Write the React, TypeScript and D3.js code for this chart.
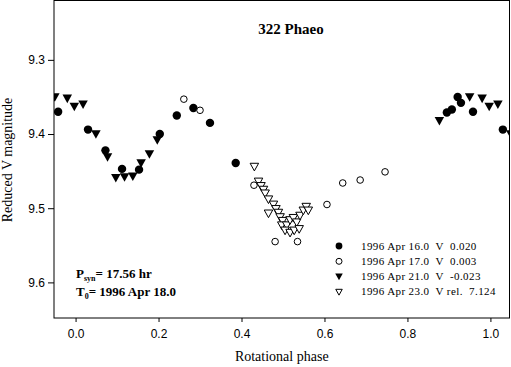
import { useEffect, useRef } from "react";
import * as d3 from "d3";

// lightcurve of 322 Phaeo, phase in [0,1), reduced V magnitude
const apr16: [number, number][] = [
  [0.03, 9.394], [0.072, 9.422], [0.112, 9.447], [0.153, 9.448], [0.203, 9.4],
  [0.244, 9.375], [0.284, 9.365], [0.324, 9.385], [0.386, 9.439],
  [0.895, 9.371], [0.907, 9.367], [0.921, 9.35], [0.929, 9.358], [0.958, 9.37],
];
const apr17: [number, number][] = [
  [0.261, 9.353], [0.3, 9.368], [0.43, 9.469], [0.481, 9.545], [0.535, 9.545],
  [0.606, 9.495], [0.644, 9.466], [0.686, 9.462], [0.746, 9.451],
];
const apr21: [number, number][] = [
  [0.018, 9.36], [0.049, 9.4], [0.077, 9.431], [0.097, 9.459], [0.118, 9.458],
  [0.138, 9.457], [0.158, 9.439], [0.178, 9.427], [0.197, 9.408],
  [0.877, 9.382], [0.95, 9.35], [0.98, 9.352], [0.997, 9.363],
];
const apr23: [number, number][] = [
  [0.431, 9.444], [0.441, 9.464], [0.447, 9.47], [0.453, 9.475], [0.457, 9.48],
  [0.465, 9.488], [0.477, 9.495], [0.465, 9.507], [0.483, 9.501], [0.489, 9.506],
  [0.493, 9.512], [0.499, 9.517], [0.497, 9.523], [0.509, 9.523], [0.517, 9.516],
  [0.525, 9.513], [0.533, 9.519], [0.505, 9.53], [0.517, 9.533], [0.527, 9.53],
  [0.539, 9.528], [0.541, 9.51], [0.549, 9.503], [0.556, 9.498], [0.561, 9.503],
];

const xTicks = [0, 0.2, 0.4, 0.6, 0.8, 1.0];
const yTicks = [9.3, 9.4, 9.5, 9.6];
const legendLabels = [
  "1996 Apr 16.0  V  0.020",
  "1996 Apr 17.0  V  0.003",
  "1996 Apr 21.0  V  -0.023",
  "1996 Apr 23.0  V rel.  7.124",
];

const serif = "'Liberation Serif', 'Times New Roman', serif";
const sans = "'Liberation Sans', Arial, sans-serif";

export default function App() {
  const ref = useRef<SVGSVGElement>(null);

  useEffect(() => {
    const svg = d3.select(ref.current);
    svg.selectAll("*").remove();

    const left = 54, right = 509.5, top = 0.5, bottom = 318;
    const x = d3.scaleLinear().domain([-0.052, 1.046]).range([left, right]);
    const y = d3.scaleLinear().domain([9.22, 9.648]).range([top, bottom]);

    svg.append("clipPath").attr("id", "plot-clip")
      .append("rect")
      .attr("x", left).attr("y", top)
      .attr("width", right - left).attr("height", bottom - top);

    // axes
    const yAxis = d3.axisLeft(y).tickValues(yTicks).tickFormat(d3.format(".1f"))
      .tickSize(6).tickPadding(3).tickSizeOuter(0);
    const gy = svg.append("g").attr("transform", `translate(${left},0)`).call(yAxis);
    const xAxis = d3.axisBottom(x).tickValues(xTicks).tickFormat(d3.format(".1f"))
      .tickSize(4).tickPadding(7).tickSizeOuter(0);
    const gx = svg.append("g").attr("transform", `translate(0,${bottom})`).call(xAxis);
    [gx, gy].forEach((g) => {
      g.select(".domain").remove();
      g.selectAll("text").attr("font-family", sans).attr("font-size", 12).attr("fill", "#000");
      g.selectAll("line").attr("stroke", "#000");
    });

    svg.append("rect")
      .attr("x", left).attr("y", top)
      .attr("width", right - left).attr("height", bottom - top)
      .attr("fill", "none").attr("stroke", "#000");

    // symbols
    const circle = (r: number) => d3.symbol(d3.symbolCircle, Math.PI * r * r)();
    const triDown = (w: number) =>
      `M${-w / 2},${-w * 0.4}L${w / 2},${-w * 0.4}L0,${w * 0.5}Z`;
    const styles = [
      { data: apr16, d: circle(4.2), fill: "#000", stroke: "none", ld: circle(3.4) },
      { data: apr17, d: circle(3.3), fill: "#fff", stroke: "#000", ld: circle(3) },
      { data: apr21, d: triDown(9.5), fill: "#000", stroke: "none", ld: triDown(7.5) },
      { data: apr23, d: triDown(8.5), fill: "#fff", stroke: "#000", ld: triDown(6.5) },
    ];

    const plot = svg.append("g").attr("clip-path", "url(#plot-clip)");
    const [x0, x1] = x.domain();
    styles.forEach((s) => {
      // the curve is shown past one full cycle, so wrap each point by +-1 in phase
      const pts = s.data.flatMap(([p, m]) =>
        [p - 1, p, p + 1].filter((q) => q > x0 - 0.03 && q < x1 + 0.03).map((q) => [q, m])
      );
      plot.selectAll(null).data(pts).enter().append("path")
        .attr("d", s.d)
        .attr("transform", (d) => `translate(${x(d[0])},${y(d[1])})`)
        .attr("fill", s.fill)
        .attr("stroke", s.stroke)
        .attr("stroke-width", 1);
    });

    // legend
    const lg = svg.append("g");
    legendLabels.forEach((label, i) => {
      const cy = 246 + i * 15.3;
      lg.append("path").attr("d", styles[i].ld)
        .attr("transform", `translate(339,${cy})`)
        .attr("fill", styles[i].fill).attr("stroke", styles[i].stroke);
      lg.append("text").attr("x", 361).attr("y", cy + 3.5)
        .attr("font-family", serif).attr("font-size", 11)
        .attr("letter-spacing", 0.4)
        .style("white-space", "pre")
        .text(label);
    });

    // titles
    svg.append("text").attr("x", 291).attr("y", 34)
      .attr("text-anchor", "middle").attr("font-family", serif)
      .attr("font-weight", "bold").attr("font-size", 15)
      .text("322 Phaeo");

    svg.append("text")
      .attr("transform", `translate(12,160) rotate(-90)`)
      .attr("text-anchor", "middle").attr("font-family", serif).attr("font-size", 14)
      .text("Reduced V magnitude");

    svg.append("text").attr("x", (left + right) / 2).attr("y", 361)
      .attr("text-anchor", "middle").attr("font-family", serif).attr("font-size", 14)
      .text("Rotational phase");

    const note = svg.append("g").attr("font-family", serif)
      .attr("font-weight", "bold").attr("font-size", 13);
    const t1 = note.append("text").attr("x", 76).attr("y", 278);
    t1.append("tspan").text("P");
    t1.append("tspan").attr("font-size", 8).attr("dy", 3).text("syn");
    t1.append("tspan").attr("dy", -3).text("= 17.56 hr");
    const t2 = note.append("text").attr("x", 76).attr("y", 296);
    t2.append("tspan").text("T");
    t2.append("tspan").attr("font-size", 8).attr("dy", 3).text("0");
    t2.append("tspan").attr("dy", -3).text("= 1996 Apr 18.0");
  }, []);

  return (
    <div style={{ position: "absolute", left: 0, top: 0 }}>
      <svg ref={ref} width={511} height={367} />
    </div>
  );
}
